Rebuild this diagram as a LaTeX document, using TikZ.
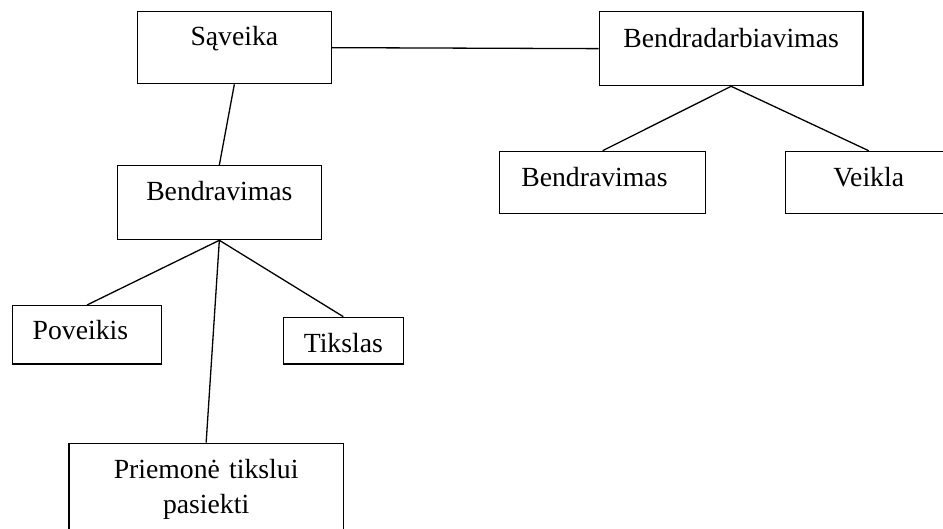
\documentclass[tikz,border=0pt]{standalone}
\usepackage{fontspec}
\setmainfont{Liberation Serif}
\usepackage{tikz}

\begin{document}
\begin{tikzpicture}[x=1pt,y=-1pt,line width=1.3pt,
        every node/.style={draw,shape=rectangle,anchor=north west,inner sep=0pt,align=center,
            font=\fontsize{27.7pt}{35pt}\selectfont},
        leftbox/.style={align=left,inner xsep=#1}]
    \useasboundingbox (0,0) rectangle (943,529);
    % upper row
    \node[text width=194pt,text height=34pt,text depth=38pt] (saveika) at (136.7,11) {Sąveika};
    \node[text width=263.6pt,text height=36pt,text depth=38pt] (bendradarb) at (598.7,11) {Bendradarbiavimas};
    % middle row
    \node[text width=204pt,text height=35pt,text depth=39pt] (bendr1) at (116.7,165) {Bendravimas};
    \node[leftbox=21.7pt,text width=162.6pt,text height=35pt,text depth=27pt] (bendr2) at (499,150.7) {Bendravimas};
    \node[text width=166pt,text height=35pt,text depth=27pt] (veikla) at (785,150.7) {Veikla};
    % lower row
    \node[leftbox=20.3pt,text width=108.7pt,text height=34pt,text depth=24.3pt] (poveikis) at (11.7,305) {Poveikis};
    \node[text width=120pt,text height=35pt,text depth=11.6pt] (tikslas) at (282.7,316.7) {Tikslas};
    \node[text width=274.4pt,text height=35.3pt,text depth=67pt] (priemone) at (68.3,442.7) {Priemonė tikslui\\pasiekti};
    % connectors
    \draw (saveika.east) -- (bendradarb.west);
    \draw (saveika.south) -- (bendr1.north);
    \draw (bendradarb.south) -- (bendr2.north);
    \draw (bendradarb.south) -- (veikla.north);
    \draw (bendr1.south) -- (poveikis.north);
    \draw (bendr1.south) -- (priemone.north);
    \draw (bendr1.south) -- (tikslas.north);
\end{tikzpicture}
\end{document}
